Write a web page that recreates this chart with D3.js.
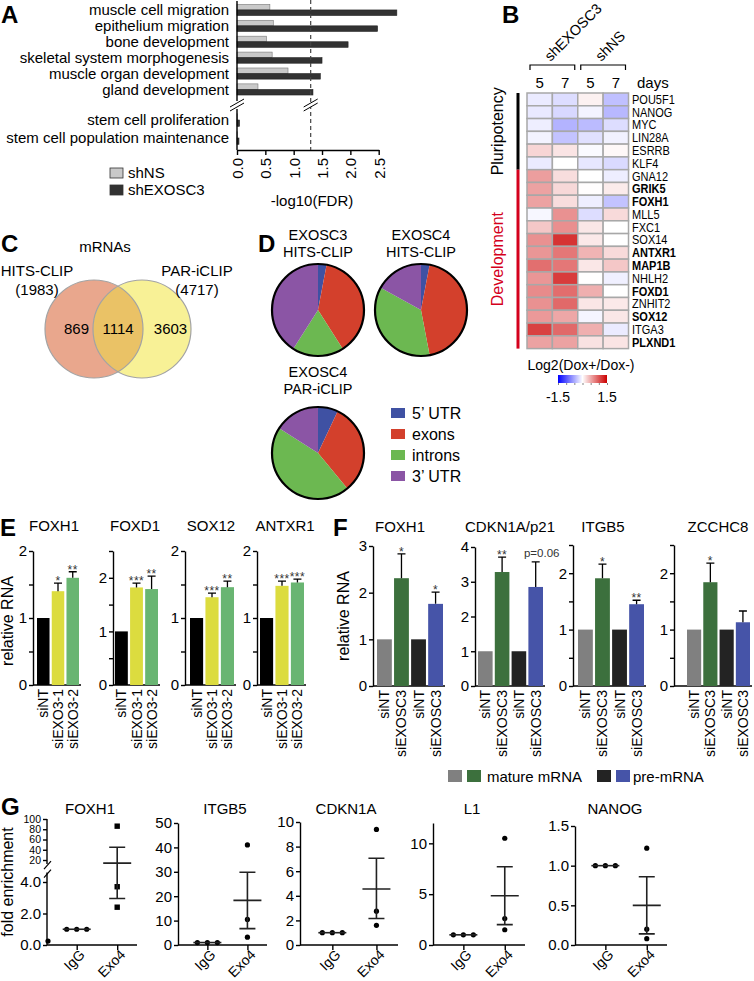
<!DOCTYPE html>
<html>
<head>
<meta charset="utf-8">
<script src="https://cdn.jsdelivr.net/npm/d3@7"></script>
<style>
  body { margin: 0; background: #fff; }
  svg { display: block; font-family: "Liberation Sans", Arial, Helvetica, sans-serif; }
</style>
</head>
<body>
<svg id="fig" width="754" height="981"></svg>
<script>
// ---------- data ----------
// A: GO terms
const goTerms = ["muscle cell migration", "epithelium migration", "bone development",
  "skeletal system morphogenesis", "muscle organ development", "gland development"];
const goShNS = [0.58, 0.64, 0.52, 0.62, 0.90, 0.37];
const goShEXOSC3 = [2.82, 2.48, 1.96, 1.50, 1.47, 1.34];
const stemTerms = ["stem cell proliferation", "stem cell population maintenance"];
const stemShNS = [0.01, 0.01];
const stemShEXOSC3 = [0.045, 0.035];
const fdrTicks = [0, 0.5, 1, 1.5, 2, 2.5];
const fdrCutoff = 1.3;

// B: heatmap
const heatGenes = ["POU5F1", "NANOG", "MYC", "LIN28A", "ESRRB", "KLF4", "GNA12", "GRIK5", "FOXH1", "MLL5",
  "FXC1", "SOX14", "ANTXR1", "MAP1B", "NHLH2", "FOXD1", "ZNHIT2", "SOX12", "ITGA3", "PLXND1"];
const heatBold = ["GRIK5", "FOXH1", "ANTXR1", "MAP1B", "FOXD1", "SOX12", "PLXND1"];
const heatGroups = ["shEXOSC3", "shNS"];
const heatDays = ["5", "7", "5", "7"];
const heatValues = [
  [-0.12, -0.20, 0.08, -0.37],
  [-0.13, -0.23, -0.07, -0.42],
  [-0.10, -0.45, -0.40, -0.20],
  [-0.07, -0.35, -0.18, -0.08],
  [0.25, 0.16, -0.03, 0.04],
  [-0.12, 0.00, -0.14, -0.22],
  [0.57, 0.20, 0.00, -0.10],
  [0.55, 0.23, 0.01, 0.12],
  [0.55, 0.20, -0.10, -0.35],
  [-0.05, 0.65, -0.20, 0.22],
  [0.33, 0.66, 0.14, 0.00],
  [0.65, 1.20, 0.13, 0.00],
  [0.62, 0.80, 0.44, 0.22],
  [0.85, 0.80, 0.14, 0.33],
  [0.62, 1.15, 0.00, -0.09],
  [0.68, 0.86, 0.47, 0.00],
  [0.65, 0.88, 0.15, 0.13],
  [0.60, 0.52, -0.06, 0.14],
  [1.12, 0.88, 0.47, -0.12],
  [0.55, 0.55, 0.17, 0.16]
];
const heatSections = ["Pluripotency", "Development"];
const heatSectionRows = [6, 14];
const heatRange = [-1.5, 1.5];

// C: venn
const vennSets = ["HITS-CLIP", "PAR-iCLIP"];
const vennTotals = [1983, 4717];
const vennCounts = [869, 1114, 3603];

// D: pies
const regions = ["5\u2019 UTR", "exons", "introns", "3\u2019 UTR"];
const pieTitles = [["EXOSC3", "HITS-CLIP"], ["EXOSC4", "HITS-CLIP"], ["EXOSC4", "PAR-iCLIP"]];
const pieShares = [[3, 38, 18, 41], [3, 44, 36, 17], [7, 32, 45, 16]];

// E: qPCR siEXO3
const eGenes = ["FOXH1", "FOXD1", "SOX12", "ANTXR1"];
const eGroups = ["siNT", "siEXO3-1", "siEXO3-2"];
const eMeans = [[1, 1.40, 1.60], [1, 1.82, 1.79], [1, 1.31, 1.46], [1, 1.48, 1.53]];
const eErrTop = [[1, 1.52, 1.69], [1, 1.90, 2.03], [1, 1.37, 1.55], [1, 1.55, 1.58]];
const eMarks = [["", "*", "**"], ["", "***", "**"], ["", "***", "**"], ["", "***", "***"]];
const eYMax = [2, 2.5, 2, 2];

// F: mature / pre-mRNA
const fGenes = ["FOXH1", "CDKN1A/p21", "ITGB5", "ZCCHC8"];
const fGroups = ["siNT", "siEXOSC3", "siNT", "siEXOSC3"];
const fMeans = [[1, 2.31, 1, 1.76], [1, 3.28, 1, 2.85], [1, 1.91, 1, 1.45], [1, 1.84, 1, 1.13]];
const fErrTop = [[1, 2.83, 1, 2.01], [1, 3.71, 1, 3.57], [1, 2.16, 1, 1.52], [1, 2.18, 1, 1.33]];
const fMarks = [["", "*", "", "*"], ["", "**", "", "p=0.06"], ["", "*", "", "**"], ["", "*", "", ""]];
const fYMax = [3, 4, 2.5, 2.5];
const fTickStep = [1, 1, 0.5, 0.5];
const fLegend = ["mature mRNA", "pre-mRNA"];

// G: RIP fold enrichment
const gGenes = ["FOXH1", "ITGB5", "CDKN1A", "L1", "NANOG"];
const gIgG = [[1, 1, 1], [1, 1, 1], [1, 1, 1], [1, 1, 1], [1, 1, 1]];
const gExo4 = [[86, 3.7, 2.4], [41, 10.5, 3.2], [9.4, 2.75, 1.6], [10.5, 2.6, 1.5], [1.22, 0.2, 0.08]];
const gExo4Mean = [14, 18.3, 4.55, 4.85, 0.5];
const gExo4Hi = [45, 29.8, 7.05, 7.7, 0.86];
const gExo4Lo = [2.95, 6.7, 2.15, 2.0, 0.14];
const gTicks = [[0, 2, 4], [0, 10, 20, 30, 40, 50], [0, 2, 4, 6, 8, 10], [0, 5, 10], [0, 0.5, 1, 1.5]];
const gYMax = [4, 50, 10, 12, 1.5];
const gFoxh1Upper = [20, 40, 60, 80, 100];
const gFoxh1Stray = [0.25];

// ---------- helpers ----------
const svg = d3.select("#fig");
const defs = svg.append("defs");

function T(g, x, y, s, o = {}) {
  const t = g.append("text").attr("x", x).attr("y", y).text(s)
    .attr("font-size", o.size || 15)
    .attr("text-anchor", o.anchor || "start")
    .attr("fill", o.fill || "#000");
  if (o.weight) t.attr("font-weight", o.weight);
  if (o.dy) t.attr("dy", o.dy);
  return t;
}
function RT(g, x, y, angle, s, o = {}) {
  const t = T(g, 0, 0, s, o);
  t.attr("transform", `translate(${x},${y}) rotate(${angle})`);
  return t;
}
function styleAxis(g, fs) {
  g.attr("font-family", null).attr("font-size", fs);
  g.select(".domain").attr("stroke", "#000").attr("stroke-width", 1.4);
  g.selectAll(".tick line").attr("stroke", "#000").attr("stroke-width", 1.4);
  g.selectAll(".tick text").attr("fill", "#000");
  return g;
}
function letter(x, y, s) { T(svg, x, y, s, { size: 24, weight: "bold" }); }

// ---------- A ----------
const gA = svg.append("g");
letter(1, 23, "A");
const xA = d3.scaleLinear().domain([0, 2.5]).range([237, 378.7]);
const yA = d3.scaleBand().domain(goTerms).range([2, 97.4]).paddingInner(0.3).paddingOuter(0.15);
const yA2 = d3.scaleBand().domain(stemTerms).range([111, 147]).paddingInner(0.3).paddingOuter(0.15);
const seriesA = ["shNS", "shEXOSC3"];
const colA = { shNS: "#c9c9c9", shEXOSC3: "#323232" };

function aRows(terms, ns, ex, yS) {
  const s = d3.scaleBand().domain(seriesA).range([0, yS.bandwidth()]);
  const rows = terms.map((t, i) => ({ t, v: [ns[i], ex[i]] }));
  const rg = gA.append("g").selectAll("g").data(rows).join("g")
    .attr("transform", d => `translate(0,${yS(d.t)})`);
  rg.selectAll("rect").data(d => d.v.map((v, j) => ({ k: seriesA[j], v }))).join("rect")
    .attr("x", xA(0)).attr("y", d => s(d.k))
    .attr("width", d => xA(d.v) - xA(0)).attr("height", s.bandwidth())
    .attr("fill", d => colA[d.k]).attr("stroke", d => d.k === "shNS" ? "#777" : "#222").attr("stroke-width", 0.6);
  rg.append("text").attr("x", 229).attr("y", yS.bandwidth() / 2).attr("dy", "0.35em")
    .attr("text-anchor", "end").attr("font-size", 15).text(d => d.t);
}
aRows(goTerms, goShNS, goShEXOSC3, yA);
aRows(stemTerms, stemShNS, stemShEXOSC3, yA2);

const axA = gA.append("g").attr("transform", "translate(0,150)")
  .call(d3.axisBottom(xA).tickValues(fdrTicks).tickFormat(d3.format(".1f")).tickSize(5).tickSizeOuter(0));
styleAxis(axA, 15);
axA.selectAll(".tick text").attr("transform", "rotate(-90)").attr("text-anchor", "end")
  .attr("x", -8).attr("y", 0).attr("dy", "0.36em");
gA.append("path").attr("d", `M${xA(0)},1V101M${xA(0)},109V150`).attr("stroke", "#000").attr("stroke-width", 1.4).attr("fill", "none");
gA.append("line").attr("x1", xA(fdrCutoff)).attr("x2", xA(fdrCutoff)).attr("y1", 0).attr("y2", 150)
  .attr("stroke", "#444").attr("stroke-width", 1.2).attr("stroke-dasharray", "4,3");
[xA(0), xA(fdrCutoff)].forEach(x0 => {
  gA.append("path").attr("d", `M${x0 - 7},${107}L${x0 + 7},${99}L${x0 + 7},${103}L${x0 - 7},${111}Z`).attr("fill", "#fff");
  [0, 4].forEach(o => gA.append("line").attr("x1", x0 - 7).attr("y1", 107 + o).attr("x2", x0 + 7).attr("y2", 99 + o)
    .attr("stroke", "#000").attr("stroke-width", 1));
});
seriesA.forEach((k, i) => {
  gA.append("rect").attr("x", 110).attr("y", 168 + i * 17).attr("width", 13).attr("height", 10)
    .attr("fill", colA[k]).attr("stroke", "#333").attr("stroke-width", 0.8);
  T(gA, 128, 178 + i * 17, k, { size: 15 });
});
T(gA, 312, 206, "-log10(FDR)", { size: 15, anchor: "middle" });

// ---------- B ----------
const gB = svg.append("g");
letter(502, 23, "B");
const xB = d3.scaleBand().domain(d3.range(4)).range([527, 628.5]);
const yB = d3.scaleBand().domain(heatGenes).range([93, 348.6]);
const colB = d3.scaleLinear().domain([heatRange[0], 0, heatRange[1]]).range(["#0000ff", "#ffffff", "#cc0000"]);
gB.append("g").selectAll("g").data(heatValues).join("g")
  .attr("transform", (d, i) => `translate(0,${yB(heatGenes[i])})`)
  .selectAll("rect").data(d => d).join("rect")
  .attr("x", (d, j) => xB(j)).attr("y", 0).attr("width", xB.bandwidth()).attr("height", yB.bandwidth())
  .attr("fill", d => colB(d)).attr("stroke", "#a8a8a8").attr("stroke-width", 1.5);
gB.append("g").selectAll("text").data(heatGenes).join("text")
  .attr("transform", d => `translate(632,${yB(d) + yB.bandwidth() / 2}) scale(0.88,1)`)
  .attr("dy", "0.36em").attr("font-size", 12.5)
  .attr("font-weight", d => heatBold.includes(d) ? "bold" : null).text(d => d);
heatDays.forEach((d, j) => T(gB, xB(j) + xB.bandwidth() / 2, 88, d, { size: 15, anchor: "middle" }));
T(gB, 637, 88, "days", { size: 15 });
heatGroups.forEach((grp, k) => {
  const a = xB(2 * k) + 3, b = xB(2 * k + 1) + xB.bandwidth() - 3;
  gB.append("path").attr("d", `M${a},70V65H${b}V70`).attr("fill", "none").attr("stroke", "#000").attr("stroke-width", 1.2);
  RT(gB, (a + b) / 2 - 2, 62, -45, grp, { size: 14.5 });
});
let r0 = 0;
heatSections.forEach((s, k) => {
  const top = yB(heatGenes[r0]), bot = yB(heatGenes[r0 + heatSectionRows[k] - 1]) + yB.bandwidth();
  const c = k === 0 ? "#000" : "#d4001c";
  gB.append("rect").attr("x", 516.5).attr("y", top).attr("width", 3).attr("height", bot - top).attr("fill", c);
  RT(gB, 503, (top + bot) / 2, -90, s, { size: 16, anchor: "middle", fill: c });
  r0 += heatSectionRows[k];
});
const grad = defs.append("linearGradient").attr("id", "heatGrad");
grad.selectAll("stop").data(d3.range(0, 1.0001, 0.1)).join("stop")
  .attr("offset", d => d).attr("stop-color", d => colB(heatRange[0] + d * (heatRange[1] - heatRange[0])));
const cbar = d3.scaleLinear().domain(heatRange).range([558, 607]);
gB.append("rect").attr("x", 558).attr("y", 375).attr("width", 49).attr("height", 8).attr("fill", "url(#heatGrad)");
const axCb = gB.append("g").attr("transform", "translate(0,383)")
  .call(d3.axisBottom(cbar).tickValues([-1.5, -1, -0.5, 0, 0.5, 1, 1.5]).tickSize(2).tickSizeOuter(0).tickFormat(""));
styleAxis(axCb, 13);
axCb.select(".domain").remove();
axCb.selectAll(".tick line").attr("stroke", "#666").attr("stroke-width", 0.8);
heatRange.forEach(v => T(gB, cbar(v), 402, String(v), { size: 14, anchor: "middle" }));
T(gB, 581, 370, "Log2(Dox+/Dox-)", { size: 14, anchor: "middle" });

// ---------- C ----------
const gC = svg.append("g");
letter(1, 252, "C");
T(gC, 105, 252, "mRNAs", { size: 15, anchor: "middle" });
const vennCx = [94, 142], vennCy = 329, vennR = 49;
defs.append("clipPath").attr("id", "vennClip").append("circle").attr("cx", vennCx[0]).attr("cy", vennCy).attr("r", vennR);
gC.append("circle").attr("cx", vennCx[0]).attr("cy", vennCy).attr("r", vennR).attr("fill", "#e9a78d");
gC.append("circle").attr("cx", vennCx[1]).attr("cy", vennCy).attr("r", vennR).attr("fill", "#f8f196");
gC.append("circle").attr("cx", vennCx[1]).attr("cy", vennCy).attr("r", vennR).attr("fill", "#eac266").attr("clip-path", "url(#vennClip)");
vennCx.forEach(cx => gC.append("circle").attr("cx", cx).attr("cy", vennCy).attr("r", vennR)
  .attr("fill", "none").attr("stroke", "#a3a3a3").attr("stroke-width", 1.2));
[[37, 276], [197, 276]].forEach(([x, y], i) => {
  T(gC, x, y, vennSets[i], { size: 15, anchor: "middle" });
  T(gC, x, y + 19, `(${vennTotals[i]})`, { size: 15, anchor: "middle" });
});
const vennNumX = [vennCx[0] - vennR / 2 + 7, (vennCx[0] + vennCx[1]) / 2, vennCx[1] + vennR / 2 + 4];
vennCounts.forEach((n, i) => T(gC, vennNumX[i], vennCy + 5, String(n), { size: 15, anchor: "middle" }));

// ---------- D ----------
const gD = svg.append("g");
letter(258, 252, "D");
const regionColors = d3.scaleOrdinal().domain(regions).range(["#3f51a3", "#d3402c", "#6cb851", "#8b55a5"]);
const pieCenters = [[318, 310], [421, 310], [318, 453]];
const pieTitleY = [240, 240, 377];
const pieR = 46;
const pieGen = d3.pie().sort(null).value(d => d.v);
const arcGen = d3.arc().innerRadius(0).outerRadius(pieR);
pieShares.forEach((sh, i) => {
  const [cx, cy] = pieCenters[i];
  const g = gD.append("g").attr("transform", `translate(${cx},${cy})`);
  g.selectAll("path").data(pieGen(sh.map((v, j) => ({ v, k: regions[j] })))).join("path")
    .attr("d", arcGen).attr("fill", d => regionColors(d.data.k));
  g.append("circle").attr("r", pieR).attr("fill", "none").attr("stroke", "#000").attr("stroke-width", 2.2);
  pieTitles[i].forEach((l, j) => T(gD, cx, pieTitleY[i] + j * 17, l, { size: 14.5, anchor: "middle" }));
});
const yLegD = d3.scalePoint().domain(regions).range([413, 476]);
regions.forEach(k => {
  gD.append("rect").attr("x", 391).attr("y", yLegD(k) - 5).attr("width", 14).attr("height", 10).attr("fill", regionColors(k));
  T(gD, 412, yLegD(k) + 6, k, { size: 16 });
});

// ---------- E / F bar panels ----------
function barPanel(g, o) {
  const y = d3.scaleLinear().domain([0, o.yMax]).range([o.y0, o.yTop]);
  const x = d3.scaleBand().domain(d3.range(o.means.length)).range([o.bx0, o.bx1]).paddingInner(o.pad);
  const ticks = d3.range(0, o.yMax + 1e-9, o.step);
  const ax = g.append("g").attr("transform", `translate(${o.ax},0)`)
    .call(d3.axisLeft(y).tickValues(ticks).tickSize(4).tickPadding(2).tickSizeOuter(0)
      .tickFormat(d => Math.abs(d - Math.round(d)) < 1e-9 ? d3.format("d")(d) : ""));
  styleAxis(ax, 15);
  g.append("line").attr("x1", o.ax).attr("x2", o.bx1 + 2).attr("y1", o.y0).attr("y2", o.y0)
    .attr("stroke", "#000").attr("stroke-width", 1.4);
  const data = o.means.map((m, j) => ({ j, m, e: o.errs[j], mark: o.marks[j], lab: o.groups[j] }));
  g.append("g").selectAll("rect").data(data).join("rect")
    .attr("x", d => x(d.j)).attr("y", d => y(d.m)).attr("width", x.bandwidth()).attr("height", d => y(0) - y(d.m))
    .attr("fill", d => o.colors[d.j]);
  const eb = g.append("g").selectAll("g").data(data.filter(d => d.e > d.m)).join("g");
  eb.append("path").attr("d", d => {
    const cx = x(d.j) + x.bandwidth() / 2;
    return `M${cx},${y(d.m)}V${y(d.e)}M${cx - 4},${y(d.e)}H${cx + 4}`;
  }).attr("stroke", "#000").attr("stroke-width", 1.3).attr("fill", "none");
  g.append("g").selectAll("text").data(data.filter(d => d.mark)).join("text")
    .attr("x", d => x(d.j) + x.bandwidth() / 2 + (d.mark.startsWith("p") ? 6 : 0))
    .attr("y", d => y(d.e) + (d.mark.startsWith("p") ? -5 : 2))
    .attr("text-anchor", "middle").attr("font-size", d => d.mark.startsWith("p") ? 11.5 : 12)
    .attr("letter-spacing", d => d.mark.startsWith("p") ? 0 : 0.5)
    .attr("fill", "#333").text(d => d.mark);
  g.append("g").selectAll("text").data(data).join("text")
    .attr("transform", d => `translate(${x(d.j) + x.bandwidth() / 2 + 5},${o.y0 + 4}) rotate(-90)`)
    .attr("text-anchor", "end").attr("font-size", 14).text(d => d.lab);
  T(g, o.titleX, o.titleY, o.title, { size: 15, anchor: "middle" });
}

const gE = svg.append("g");
letter(0, 536, "E");
const eAx = [33, 113, 185, 257], eBx0 = [37, 115, 190, 260], eBx1 = [79, 158, 234, 304];
const eTitleX = [54, 135, 211, 285];
const eColors = ["#000000", "#dcdc3f", "#69b572"];
eGenes.forEach((gname, i) => barPanel(gE, {
  ax: eAx[i], bx0: eBx0[i], bx1: eBx1[i], pad: 0.15, y0: 685, yTop: 685 - 67 * eYMax[i] * (i === 1 ? 0.8 : 1),
  yMax: eYMax[i], step: 0.5, means: eMeans[i], errs: eErrTop[i], marks: eMarks[i], groups: eGroups, colors: eColors,
  title: gname, titleX: eTitleX[i], titleY: 531
}));
RT(gE, 13, 621, -90, "relative RNA", { size: 16, anchor: "middle" });

const gF = svg.append("g");
letter(333, 536, "F");
const fAx = [373, 475, 573, 674], fBx0 = [377, 478, 578, 687], fBx1 = [443, 543, 644, 750];
const fTitleX = [400, 510, 603, 718];
const fTop = [546, 547, 545, 545];
const fColors = ["#808080", "#3c703d", "#232323", "#4654a8"];
fGenes.forEach((gname, i) => barPanel(gF, {
  ax: fAx[i], bx0: fBx0[i], bx1: fBx1[i], pad: 0.13, y0: 686, yTop: fTop[i],
  yMax: fYMax[i], step: fTickStep[i], means: fMeans[i], errs: fErrTop[i], marks: fMarks[i], groups: fGroups, colors: fColors,
  title: gname, titleX: fTitleX[i], titleY: 532
}));
RT(gF, 349, 616, -90, "relative RNA", { size: 16, anchor: "middle" });
[[448, 0], [467, 1], [597, 2], [616, 3]].forEach(([x, c]) =>
  gF.append("rect").attr("x", x).attr("y", 770).attr("width", 14).attr("height", 12).attr("fill", fColors[c]));
T(gF, 487, 782, fLegend[0], { size: 15 });
T(gF, 633, 782, fLegend[1], { size: 15 });

// ---------- G ----------
const gG = svg.append("g");
letter(1, 815, "G");
const gAxX = [47, 178, 300, 433, 575], gW = [90, 89, 98, 92, 92];
const gTop = [882, 823, 822, 823, 826];
const gTitleX = [90, 225, 346, 472, 615];
const gBase = 945;

gGenes.forEach((gname, i) => {
  const g = gG.append("g");
  const ax = gAxX[i];
  const xs = d3.scalePoint().domain(["IgG", "Exo4"]).range([ax + gW[i] * 0.33, ax + gW[i] * 0.78]);
  let yf;
  if (i === 0) {
    const lower = d3.scaleLinear().domain([0, gYMax[0]]).range([gBase, gTop[0]]);
    const upper = d3.scaleLinear().domain([20, 100]).range([860, 819]);
    yf = v => v >= 10 ? upper(v) : lower(v);
    const al = g.append("g").attr("transform", `translate(${ax},0)`)
      .call(d3.axisLeft(lower).tickValues(gTicks[0]).tickSize(4).tickPadding(2).tickSizeOuter(0));
    styleAxis(al, 15).select(".domain").remove();
    const au = g.append("g").attr("transform", `translate(${ax},0)`)
      .call(d3.axisLeft(upper).tickValues(gFoxh1Upper).tickSize(4).tickPadding(2).tickSizeOuter(0));
    styleAxis(au, 10.5).select(".domain").remove();
    g.append("path").attr("d", `M${ax},${gBase}V${lower(4.6)}M${ax},${upper(12)}V${upper(100)}`)
      .attr("stroke", "#000").attr("stroke-width", 1.4).attr("fill", "none");
    [upper(12) + 2, lower(4.6) + 2].forEach(yy => g.append("line")
      .attr("x1", ax - 3).attr("x2", ax + 4).attr("y1", yy + 3).attr("y2", yy - 5).attr("stroke", "#000").attr("stroke-width", 1.2));
    g.selectAll("circle.stray").data(gFoxh1Stray).join("circle").attr("class", "stray")
      .attr("cx", ax + 1).attr("cy", d => lower(d)).attr("r", 2.6).attr("fill", "#000");
  } else {
    const y = d3.scaleLinear().domain([0, gYMax[i]]).range([gBase, gTop[i]]);
    yf = y;
    const a = g.append("g").attr("transform", `translate(${ax},0)`)
      .call(d3.axisLeft(y).tickValues(gTicks[i]).tickSize(4).tickPadding(2).tickSizeOuter(0)
        .tickFormat(i === 4 ? d3.format(".1f") : d3.format("d")));
    styleAxis(a, 15);
  }
  const axx = g.append("g").attr("transform", `translate(0,${gBase})`)
    .call(d3.axisBottom(xs).tickSize(5).tickSizeOuter(0));
  styleAxis(axx, 14);
  axx.select(".domain").attr("d", `M${ax},0H${ax + gW[i]}`);
  axx.selectAll(".tick text").attr("transform", "translate(3,5) rotate(-45)").attr("text-anchor", "end").attr("y", 3).attr("dy", "0.35em");

  // IgG
  const igx = xs("IgG");
  g.selectAll("circle.igg").data(gIgG[i]).join("circle").attr("class", "igg")
    .attr("cx", (d, k) => igx + (k - 1) * 10).attr("cy", d => yf(d)).attr("r", 2.6).attr("fill", "#000");
  g.append("line").attr("x1", igx - 14).attr("x2", igx + 14).attr("y1", yf(1)).attr("y2", yf(1))
    .attr("stroke", "#222").attr("stroke-width", 1.6);
  // Exo4
  const ex = xs("Exo4");
  if (i === 0) {
    g.selectAll("rect.exo").data(gExo4[i]).join("rect").attr("class", "exo")
      .attr("x", ex - 2.7).attr("y", d => yf(d) - 2.7).attr("width", 5.4).attr("height", 5.4).attr("fill", "#000");
  } else {
    g.selectAll("circle.exo").data(gExo4[i]).join("circle").attr("class", "exo")
      .attr("cx", ex).attr("cy", d => yf(d)).attr("r", 2.6).attr("fill", "#000");
  }
  g.append("path").attr("d",
    `M${ex - 14},${yf(gExo4Mean[i])}H${ex + 14}` +
    `M${ex},${yf(gExo4Hi[i])}V${yf(gExo4Lo[i])}` +
    `M${ex - 8},${yf(gExo4Hi[i])}H${ex + 8}M${ex - 8},${yf(gExo4Lo[i])}H${ex + 8}`)
    .attr("stroke", "#222").attr("stroke-width", 1.6).attr("fill", "none");
  T(g, gTitleX[i], 814, gname, { size: 15, anchor: "middle" });
});
RT(gG, 13, 882, -90, "fold enrichment", { size: 16, anchor: "middle" });
</script>
</body>
</html>
